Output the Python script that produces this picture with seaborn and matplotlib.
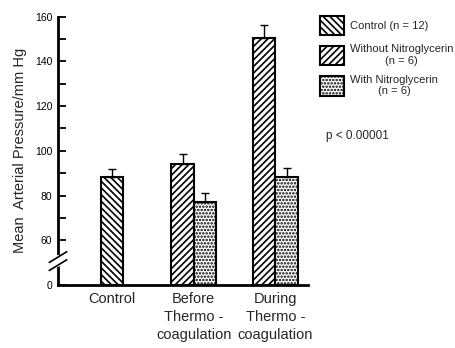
import numpy as np
import pandas as pd
import seaborn as sns
import matplotlib.pyplot as plt
from matplotlib.patches import Patch
from matplotlib import font_manager

groups = ["Control", "Before\nThermo -\ncoagulation", "During\nThermo -\ncoagulation"]
treatments = ["Without Nitroglycerin", "With Nitroglycerin"]

control_mean = [88.5]
control_err = [3.5]
without_mean = [94.0, 150.5]
without_err = [4.5, 6.0]
with_mean = [77.0, 88.5]
with_err = [4.0, 4.0]

legend_labels = ["Control (n = 12)", "Without Nitroglycerin\n(n = 6)", "With Nitroglycerin\n(n = 6)"]
yticks = [0, 60, 80, 100, 120, 140, 160]
yminor = [70, 90, 110, 130, 150]

sns.set_theme(style="white")
names = {f.name for f in font_manager.fontManager.ttflist}
fam = "Liberation Sans Narrow" if "Liberation Sans Narrow" in names else "Liberation Sans"
plt.rcParams["font.family"] = [fam, "DejaVu Sans"]
plt.rcParams["hatch.linewidth"] = 1.2

df_ctrl = pd.DataFrame({"group": [groups[0]], "value": control_mean})
df_trt = pd.DataFrame({
    "group": groups[1:] * 2,
    "treatment": [treatments[0]] * 2 + [treatments[1]] * 2,
    "value": without_mean + with_mean,
})

fig = plt.figure(figsize=(4.56, 3.48), dpi=100)
ax = fig.add_axes([58 / 456, 1 - 285 / 348, 250 / 456, 268.3 / 348])

sns.barplot(data=df_ctrl, x="group", y="value", order=groups, color="white",
            width=0.276, saturation=1, edgecolor="black", linewidth=1.5, ax=ax)
sns.barplot(data=df_trt, x="group", y="value", hue="treatment", order=groups,
            hue_order=treatments, palette=["white", "white"], saturation=1,
            width=0.552, edgecolor="black", linewidth=1.5, legend=False, ax=ax)

hatches = ["\\\\\\\\\\", "/////", "....."]
errs = [control_err, without_err, with_err]
for cont, h, err in zip(ax.containers, hatches, errs):
    for bar, e in zip(cont, err):
        bar.set_hatch(h)
        xc = bar.get_x() + bar.get_width() / 2
        ax.errorbar(xc, bar.get_height(), yerr=[[0], [e]], color="black",
                    lw=1, capsize=3, capthick=1, zorder=1)


# broken y axis: 0..60 squeezed
def fwd(v):
    v = np.asarray(v, dtype=float)
    return np.where(v < 60, v / 3, v - 40)


def inv(t):
    t = np.asarray(t, dtype=float)
    return np.where(t < 20, t * 3, t + 40)


ax.set_yscale("function", functions=(fwd, inv))
ax.set_ylim(0, 160)
ax.set_xlim(-0.665, 2.40)
ax.set_yticks(yticks)
ax.set_yticklabels([str(t) for t in yticks], fontsize=7.5)
ax.set_yticks(yminor, minor=True)
ax.tick_params(axis="y", which="both", direction="in", length=6, width=1.3,
               left=True, pad=4, colors="black")
ax.tick_params(axis="x", length=0, pad=5)
ax.set_xticks(range(len(groups)))
ax.set_xticklabels(groups, fontsize=10.5, linespacing=1.35)
ax.set_xlabel("")
ax.set_ylabel("Mean  Arterial Pressure/mm Hg", fontsize=10.5, labelpad=6)

sns.despine(ax=ax)
for s in ["left", "bottom"]:
    ax.spines[s].set_linewidth(2)
    ax.spines[s].set_color("black")

# break marks on the y axis
yb = 0.094
ax.plot([0, 0], [yb - 0.02, yb + 0.01], transform=ax.transAxes,
        color="white", lw=3, clip_on=False, zorder=5)
ax.plot([-0.035, 0.035], [yb - 0.04, yb + 0.0], transform=ax.transAxes,
        color="black", lw=1.2, clip_on=False, zorder=6)
ax.plot([-0.035, 0.035], [yb - 0.01, yb + 0.03], transform=ax.transAxes,
        color="black", lw=1.2, clip_on=False, zorder=6)

handles = [Patch(facecolor="white", edgecolor="black", hatch=h, linewidth=1.5) for h in hatches]
leg = fig.legend(handles, legend_labels, loc="upper left",
                 bbox_to_anchor=(310 / 456, 1 - 6 / 348), frameon=False,
                 fontsize=8, handlelength=2.2, handleheight=2.3,
                 labelspacing=0.8, handletextpad=0.5)
for t in leg.get_texts():
    t.set_multialignment("center")

fig.text(326 / 456, 1 - 136 / 348, "p < 0.00001", fontsize=8.5, va="center")

fig.savefig("out.png", dpi=100)
